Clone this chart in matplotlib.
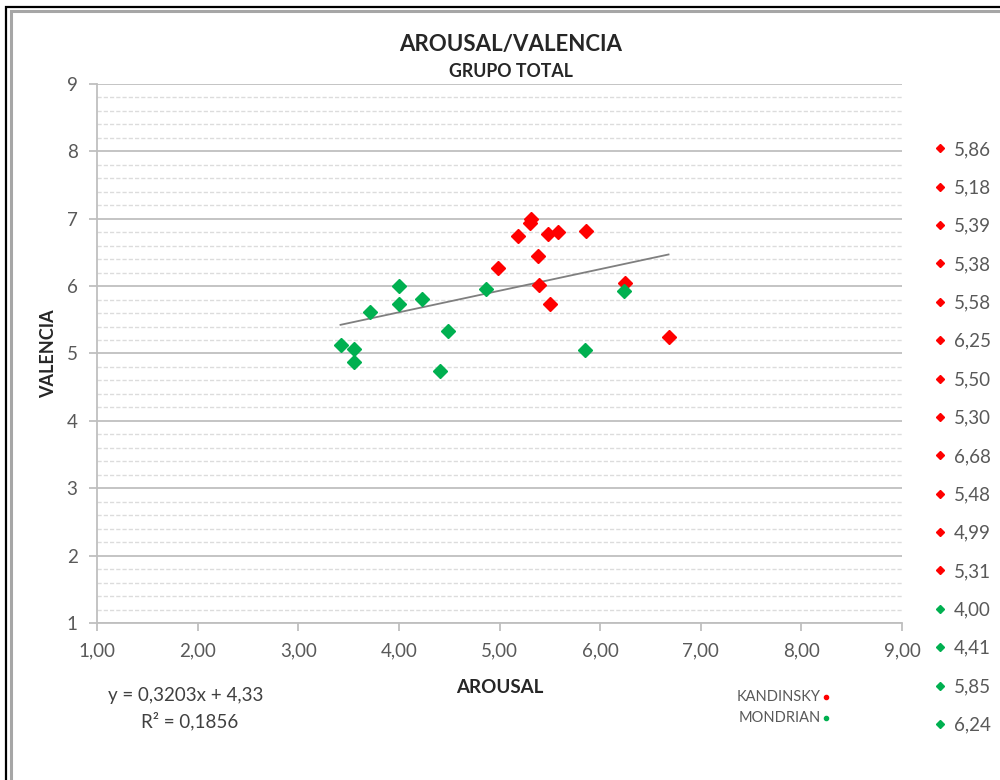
import numpy as np
import matplotlib
matplotlib.use("Agg")
import matplotlib.pyplot as plt
from matplotlib.lines import Line2D
from matplotlib.patches import Rectangle
from matplotlib.ticker import MultipleLocator, FuncFormatter

plt.rcParams['font.family'] = ['Lato', 'DejaVu Sans']

# arousal / valence ratings per painting
kandinsky_arousal = [5.86, 5.18, 5.39, 5.38, 5.58, 6.25, 5.50, 5.30, 6.68, 5.48, 4.99, 5.31]
kandinsky_valence = [6.82, 6.74, 6.01, 6.45, 6.81, 6.04, 5.73, 6.93, 5.25, 6.77, 6.27, 7.00]
mondrian_arousal = [4.00, 4.41, 5.85, 6.24, 3.42, 3.55, 3.55, 3.71, 4.00, 4.23, 4.49, 4.87]
mondrian_valence = [6.00, 4.74, 5.05, 5.93, 5.12, 5.06, 4.87, 5.61, 5.73, 5.81, 5.33, 5.95]

slope, intercept = 0.3203, 4.33
r_squared = 0.1856

RED = '#ff0000'
GREEN = '#00b050'
GREY = '#595959'

def comma(v, decimals):
    return f"{v:.{decimals}f}".replace('.', ',')

fig = plt.figure(figsize=(10, 7.8), dpi=100)
ax = fig.add_axes([0.097, 0.2013, 0.805, 0.691])

# Excel-style: one series per point, so the legend lists each value
handles = []
for xs, ys, col in ((kandinsky_arousal, kandinsky_valence, RED),
                    (mondrian_arousal, mondrian_valence, GREEN)):
    for x, y in zip(xs, ys):
        ax.plot(x, y, 'D', color=col, ms=7.5, mec=col, zorder=3)
        handles.append(Line2D([], [], ls='none', marker='D', color=col,
                              ms=4.5, label=comma(x, 2)))

# linear trend line
all_x = np.array(kandinsky_arousal + mondrian_arousal)
tx = np.array([all_x.min(), all_x.max()])
ax.plot(tx, slope * tx + intercept, color='#7f7f7f', lw=1.3, zorder=2)

ax.set_xlim(1, 9)
ax.set_ylim(1, 9)
ax.xaxis.set_major_locator(MultipleLocator(1))
ax.yaxis.set_major_locator(MultipleLocator(1))
ax.yaxis.set_minor_locator(MultipleLocator(0.2))
ax.xaxis.set_major_formatter(FuncFormatter(lambda v, p: comma(v, 2)))
ax.yaxis.set_major_formatter(FuncFormatter(lambda v, p: f"{v:.0f}"))

ax.grid(axis='y', which='major', color='#bfbfbf', lw=1.3)
ax.grid(axis='y', which='minor', color='#dcdcdc', lw=1.0, ls=(0, (3, 1.5)))
ax.set_axisbelow(True)

for side in ('top', 'right'):
    ax.spines[side].set_visible(False)
for side in ('left', 'bottom'):
    ax.spines[side].set_color('#bfbfbf')
    ax.spines[side].set_linewidth(1.3)

ax.tick_params(axis='both', which='major', length=6, width=1.3, color='#bfbfbf',
               labelsize=13.5, labelcolor=GREY, pad=8)
ax.tick_params(axis='y', which='minor', length=0)

ax.set_xlabel('AROUSAL', fontsize=13.5, fontweight='bold', color='#262626', labelpad=14)
ax.set_ylabel('VALENCIA', fontsize=13, fontweight='bold', color='#262626', labelpad=7)

fig.text(0.511, 0.943, 'AROUSAL/VALENCIA', ha='center', va='center',
         fontsize=16, fontweight='bold', color='#262626')
fig.text(0.511, 0.908, 'GRUPO TOTAL', ha='center', va='center',
         fontsize=12.8, fontweight='bold', color='#262626')

fig.text(0.186, 0.108, f"y = {comma(slope, 4)}x + {comma(intercept, 2)}",
         ha='center', va='center', fontsize=13.5, color='#404040')
fig.text(0.19, 0.076, f"R² = {comma(r_squared, 4)}",
         ha='center', va='center', fontsize=13.5, color='#404040')

# small series key
fig.text(0.821, 0.107, 'KANDINSKY', ha='right', va='center', fontsize=10.5, color=GREY)
fig.text(0.821, 0.080, 'MONDRIAN', ha='right', va='center', fontsize=10.5, color=GREY)
fig.add_artist(Line2D([0.826], [0.106], marker='o', ms=3, color=RED, ls='none'))
fig.add_artist(Line2D([0.826], [0.079], marker='o', ms=3, color=GREEN, ls='none'))

# per-point legend, cut off after 16 entries
fig.legend(handles=handles[:16], loc='upper left', bbox_to_anchor=(0.926, 0.829),
           frameon=False, fontsize=13.5, labelcolor=GREY, handlelength=0.7,
           handletextpad=0.4, labelspacing=1.14, borderaxespad=0)

# chart frame
fig.add_artist(Rectangle((0.006, -0.1), 1.2, 1.091, transform=fig.transFigure,
                         fill=False, ec='black', lw=1.6))
fig.add_artist(Rectangle((0.011, -0.1), 1.2, 1.086, transform=fig.transFigure,
                         fill=False, ec='#a6a6a6', lw=2.2))

fig.savefig('out.png', dpi=100)
